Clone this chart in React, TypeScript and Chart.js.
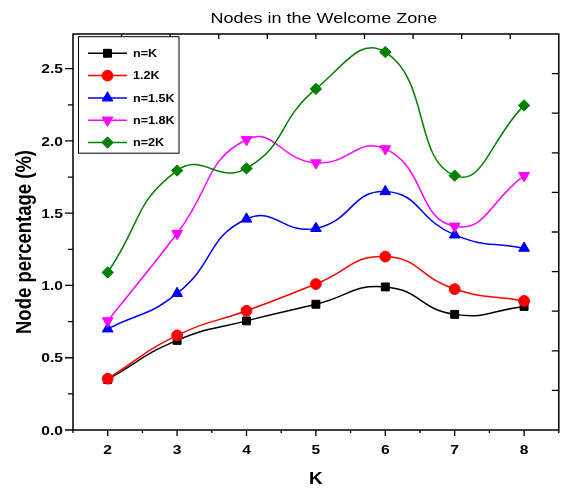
import React, { useEffect, useRef } from 'react';
import { Chart, registerables } from 'chart.js';
import { drawPoint } from 'chart.js/helpers';

Chart.register(...registerables);

// ---------- data ----------
const kValues = [2, 3, 4, 5, 6, 7, 8];
const seriesNK = [0.35, 0.62, 0.755, 0.87, 0.99, 0.8, 0.855];
const series12K = [0.355, 0.655, 0.825, 1.01, 1.2, 0.975, 0.893];
const series15K = [0.7, 0.945, 1.46, 1.395, 1.65, 1.35, 1.258];
const series18K = [0.755, 1.36, 2.01, 1.848, 1.945, 1.41, 1.76];
const series2K = [1.09, 1.795, 1.81, 2.36, 2.615, 1.76, 2.246];

const seriesData = [seriesNK, series12K, series15K, series18K, series2K];
const seriesLabels = ['n=K', '1.2K', 'n=1.5K', 'n=1.8K', 'n=2K'];
const seriesColors = ['#000000', '#ff0000', '#0000ff', '#ff00ff', '#008000'];
const pointStyles = ['rect', 'circle', 'triangle', 'triangle', 'rectRot'];
const pointRotations = [0, 0, 0, 180, 0];
const pointSizes = [5.6, 5.4, 6.2, 6.2, 5.7];

const xTicks = [2, 3, 4, 5, 6, 7, 8];
const xMinorTicks = [1.5, 2.5, 3.5, 4.5, 5.5, 6.5, 7.5, 8.5];
const yTicks = [0, 0.5, 1.0, 1.5, 2.0, 2.5];
const yMinorTicks = [0.25, 0.75, 1.25, 1.75, 2.25];
const xMin = 1.5;
const xMax = 8.5;
const yMin = 0;
const yMax = 2.74;

const titleText = 'Nodes in the Welcome Zone';
const xTitleText = 'K';
const yTitleText = 'Node percentage (%)';

const FONT = '"Liberation Sans", Arial, sans-serif';
const SX = 1.2; // horizontal stretch of the reference text

function stretchText(
  ctx: CanvasRenderingContext2D,
  text: string,
  x: number,
  y: number,
  font: string,
  align: CanvasTextAlign,
  rotate = 0
) {
  ctx.save();
  ctx.translate(x, y);
  ctx.scale(SX, 1);
  if (rotate) ctx.rotate(rotate);
  ctx.font = font;
  ctx.textAlign = align;
  ctx.textBaseline = 'alphabetic';
  ctx.fillStyle = '#000';
  ctx.fillText(text, 0, 0);
  ctx.restore();
}

const framePlugin = {
  id: 'originFrame',
  afterDraw(chart: any) {
    const ctx: CanvasRenderingContext2D = chart.ctx;
    const a = chart.chartArea;
    const xs = chart.scales.x;
    const ys = chart.scales.y;
    ctx.save();
    // frame
    ctx.strokeStyle = '#000';
    ctx.lineWidth = 1.5;
    ctx.strokeRect(a.left, a.top, a.right - a.left, a.bottom - a.top);

    ctx.lineWidth = 1.3;
    ctx.beginPath();
    // left axis ticks (outward)
    yTicks.forEach((v) => {
      const p = ys.getPixelForValue(v);
      ctx.moveTo(a.left - 8, p);
      ctx.lineTo(a.left, p);
    });
    yMinorTicks.forEach((v) => {
      const p = ys.getPixelForValue(v);
      ctx.moveTo(a.left - 5, p);
      ctx.lineTo(a.left, p);
    });
    // bottom axis ticks (outward)
    xTicks.forEach((v) => {
      const p = xs.getPixelForValue(v);
      ctx.moveTo(p, a.bottom);
      ctx.lineTo(p, a.bottom + 6);
    });
    xMinorTicks.forEach((v) => {
      const p = xs.getPixelForValue(v);
      ctx.moveTo(p, a.bottom);
      ctx.lineTo(p, a.bottom + 3);
    });
    // top & right mirror frame ticks (inward, 10 divisions)
    for (let i = 1; i < 10; i++) {
      const px = a.left + ((a.right - a.left) * i) / 10;
      ctx.moveTo(px, a.top);
      ctx.lineTo(px, a.top + 5);
      const py = a.top + ((a.bottom - a.top) * i) / 10;
      ctx.moveTo(a.right, py);
      ctx.lineTo(a.right - 7, py);
    }
    ctx.stroke();

    // tick labels
    const tickFont = `bold 13px ${FONT}`;
    yTicks.forEach((v) => {
      stretchText(ctx, v.toFixed(1), a.left - 10, ys.getPixelForValue(v) + 4.6, tickFont, 'right');
    });
    xTicks.forEach((v) => {
      stretchText(ctx, String(v), xs.getPixelForValue(v), a.bottom + 24, tickFont, 'center');
    });

    // titles
    stretchText(ctx, titleText, (a.left + a.right) / 2 + 8, 23, `15px ${FONT}`, 'center');
    stretchText(ctx, xTitleText, (a.left + a.right) / 2, a.bottom + 54, `bold 15.8px ${FONT}`, 'center');
    stretchText(ctx, yTitleText, 31, (a.top + a.bottom) / 2 + 10, `bold 18.5px ${FONT}`, 'center', -Math.PI / 2);

    // legend
    const lx = a.left + 5.5;
    const ly = a.top + 2.7;
    const lw = 100.5;
    const lh = 116.5;
    ctx.fillStyle = '#fff';
    ctx.fillRect(lx, ly, lw, lh);
    ctx.strokeStyle = '#000';
    ctx.lineWidth = 1;
    ctx.strokeRect(lx, ly, lw, lh);
    seriesLabels.forEach((label, i) => {
      const cy = ly + 16.6 + i * 22.3;
      ctx.strokeStyle = seriesColors[i];
      ctx.lineWidth = 1.5;
      ctx.beginPath();
      ctx.moveTo(lx + 9.5, cy);
      ctx.lineTo(lx + 48.5, cy);
      ctx.stroke();
      ctx.fillStyle = seriesColors[i];
      ctx.strokeStyle = seriesColors[i];
      ctx.lineWidth = 1;
      drawPoint(
        ctx,
        { pointStyle: pointStyles[i], rotation: pointRotations[i], radius: pointSizes[i], borderWidth: 1 } as any,
        lx + 29,
        cy
      );
      stretchText(ctx, label, lx + 54.5, cy + 3.8, `bold 10.5px ${FONT}`, 'left');
    });
    ctx.restore();
  },
};

export default function App() {
  const canvasRef = useRef<HTMLCanvasElement | null>(null);

  useEffect(() => {
    if (!canvasRef.current) return;
    const datasets = seriesData.map((vals, i) => ({
      label: seriesLabels[i],
      data: kValues.map((k, j) => ({ x: k, y: vals[j] })),
      borderColor: seriesColors[i],
      backgroundColor: seriesColors[i],
      borderWidth: 1.5,
      pointStyle: pointStyles[i] as any,
      rotation: pointRotations[i],
      pointRadius: pointSizes[i],
      pointBorderWidth: 1,
      pointBorderColor: seriesColors[i],
      pointBackgroundColor: seriesColors[i],
      tension: 0.5,
      cubicInterpolationMode: 'default' as const,
      fill: false,
      order: seriesData.length - i,
    }));

    const chart = new Chart(canvasRef.current, {
      type: 'line',
      data: { datasets },
      options: {
        responsive: false,
        animation: false,
        events: [],
        layout: { padding: { top: 34, right: 3, left: 0, bottom: 0 } },
        plugins: {
          legend: { display: false },
          title: { display: false },
          tooltip: { enabled: false },
        },
        scales: {
          x: {
            type: 'linear',
            min: xMin,
            max: xMax,
            grid: { display: false },
            border: { display: false },
            ticks: { display: false },
            afterFit: (s: any) => {
              s.height = 58;
            },
          },
          y: {
            type: 'linear',
            min: yMin,
            max: yMax,
            grid: { display: false },
            border: { display: false },
            ticks: { display: false },
            afterFit: (s: any) => {
              s.width = 73;
            },
          },
        },
      },
      plugins: [framePlugin],
    });
    return () => chart.destroy();
  }, []);

  return (
    <div style={{ position: 'fixed', left: 0, top: 0, width: 566, height: 488, background: '#fff' }}>
      <canvas ref={canvasRef} width={566} height={488} />
    </div>
  );
}
